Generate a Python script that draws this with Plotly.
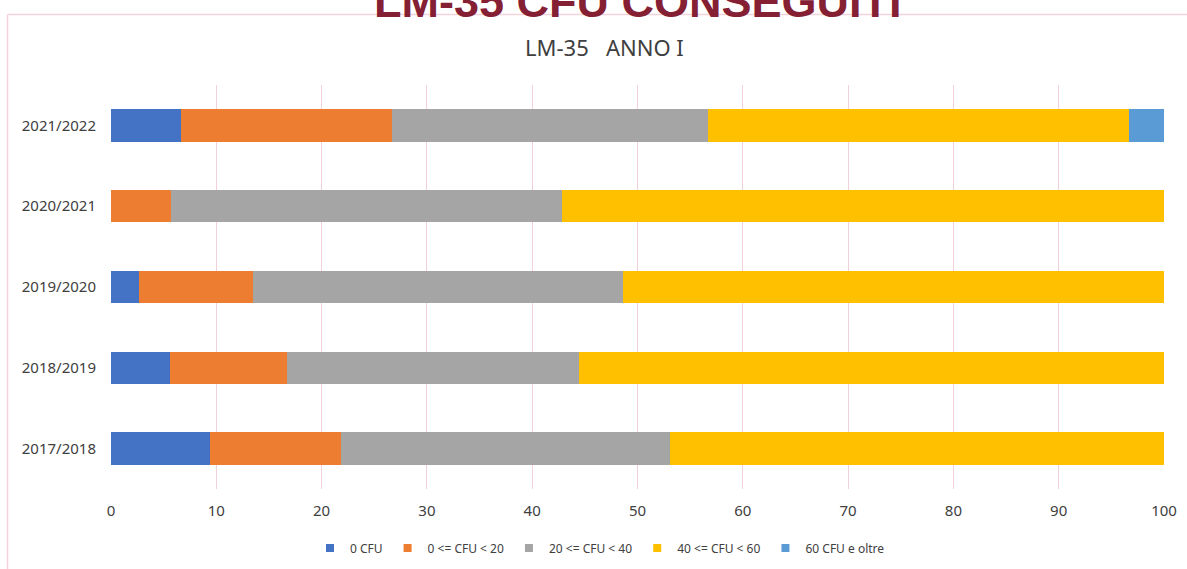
import plotly.graph_objects as go

# Anni accademici (dal basso verso l'alto)
anni = ["2017/2018", "2018/2019", "2019/2020", "2020/2021", "2021/2022"]

# Percentuali di studenti per fascia di CFU conseguiti
cfu_zero = [9.38, 5.56, 2.70, 0.00, 6.67]
cfu_0_20 = [12.50, 11.11, 10.81, 5.71, 20.00]
cfu_20_40 = [31.25, 27.78, 35.14, 37.14, 30.00]
cfu_40_60 = [46.88, 55.56, 51.35, 57.14, 40.00]
cfu_60_oltre = [0.00, 0.00, 0.00, 0.00, 3.33]

serie = [
    ("0 CFU", cfu_zero, "#4472C4"),
    ("0 <= CFU < 20", cfu_0_20, "#ED7D31"),
    ("20 <= CFU < 40", cfu_20_40, "#A5A5A5"),
    ("40 <= CFU < 60", cfu_40_60, "#FFC000"),
    ("60 CFU e oltre", cfu_60_oltre, "#5B9BD5"),
]

W, H = 1187, 569
ML, MR, MT, MB = 111, 23, 85, 80
PW, PH = W - ML - MR, H - MT - MB


def px_x(px):
    return (px - ML) / PW


def px_y(py):
    return (H - MB - py) / PH


fig = go.Figure()
for nome, valori, colore in serie:
    fig.add_trace(go.Bar(
        y=anni, x=valori, name=nome, orientation="h",
        marker=dict(color=colore, line=dict(width=0)),
        showlegend=False,
    ))
# Voci di legenda con quadratini piccoli
for nome, valori, colore in serie:
    fig.add_trace(go.Scatter(
        x=[None], y=[None], mode="markers", name=nome,
        marker=dict(symbol="square", size=8, color=colore),
        showlegend=True,
    ))

border = "#F3D3DA"
fig.add_shape(type="line", xref="paper", yref="paper",
              x0=px_x(7.5), x1=px_x(W + 5), y0=px_y(14.5), y1=px_y(14.5),
              line=dict(color=border, width=1.5), layer="below")
fig.add_shape(type="line", xref="paper", yref="paper",
              x0=px_x(7.5), x1=px_x(7.5), y0=px_y(14.5), y1=px_y(H + 5),
              line=dict(color=border, width=1.5), layer="below")

fig.add_annotation(text="<b>LM-35 CFU CONSEGUITI</b>", xref="paper", yref="paper",
                   x=px_x(638), y=px_y(1.5), xanchor="center", yanchor="middle",
                   showarrow=False,
                   font=dict(family="Liberation Sans", size=45, color="#852034"))
fig.add_annotation(text="LM-35   ANNO I", xref="paper", yref="paper",
                   x=px_x(604), y=px_y(47), xanchor="center", yanchor="middle",
                   showarrow=False,
                   font=dict(family="Noto Sans", size=22, color="#3F3F3F"))

fig.update_layout(
    width=W, height=H,
    margin=dict(l=ML, r=MR, t=MT, b=MB, autoexpand=False),
    barmode="stack", bargap=0.6,
    paper_bgcolor="white", plot_bgcolor="white",
    font=dict(family="Noto Sans", size=14, color="#404040"),
    xaxis=dict(range=[0, 100], dtick=10, showgrid=True, gridcolor="#F4D0D8",
               gridwidth=1, zeroline=False, showline=False, ticks="",
               ticklabelstandoff=11, tickfont=dict(size=15, color="#404040"),
               fixedrange=True),
    yaxis=dict(type="category", categoryorder="array", categoryarray=anni,
               showgrid=False, zeroline=False, showline=False, ticks="",
               ticklabelstandoff=14, tickfont=dict(size=15, color="#404040"),
               fixedrange=True),
    legend=dict(orientation="h", x=px_x(600), xanchor="center",
                y=px_y(548), yanchor="middle", traceorder="normal",
                font=dict(family="Noto Sans", size=12, color="#404040"),
                itemwidth=30, bgcolor="rgba(0,0,0,0)"),
)

fig.write_html("out.html")
